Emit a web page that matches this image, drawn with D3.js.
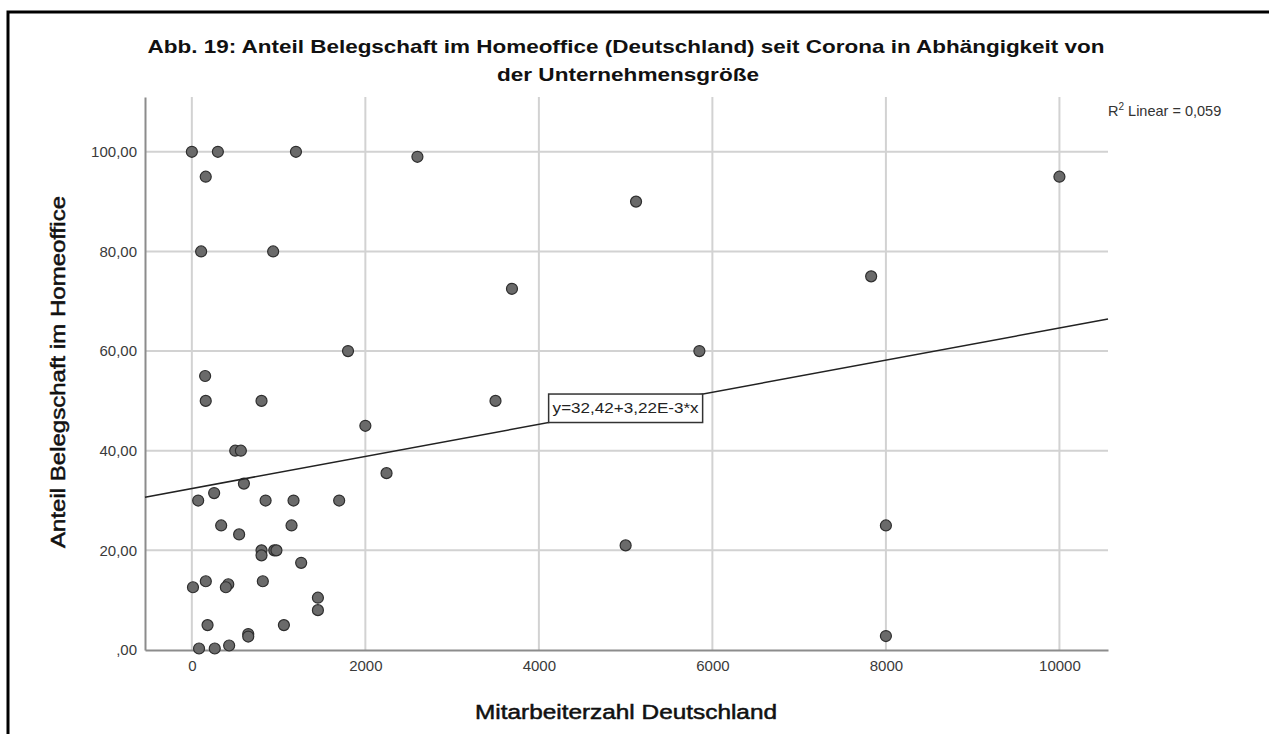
<!DOCTYPE html>
<html>
<head>
<meta charset="utf-8">
<script src="https://cdn.jsdelivr.net/npm/d3@7"></script>
<style>
  body { margin: 0; background: #fff; }
  text { font-family: Arial, "Liberation Sans", sans-serif; }
</style>
</head>
<body>
<div id="chart"></div>
<script>
// Mitarbeiterzahl Deutschland (x) / Anteil Belegschaft im Homeoffice (y)
const mitarbeiter = [
    0, 300, 1200, 160, 2600, 107, 937, 1800, 153, 160, 803,
    2000, 500, 565, 2244, 600, 257, 73, 850, 1172, 1698,
    338, 1149, 545, 803, 803, 950, 975, 1260,
    161, 13, 420, 392, 818, 1453, 1453, 181, 1061, 650, 650,
    83, 264, 430,
    3500, 5000, 5850, 3690, 5120, 7830, 8000, 8000, 10000
];
const homeoffice = [
    100, 100, 100, 95, 99, 80, 80, 60, 55, 50, 50,
    45, 40, 40, 35.5, 33.4, 31.5, 30, 30, 30, 30,
    25, 25, 23.2, 20, 19, 20, 20, 17.5,
    13.8, 12.6, 13.2, 12.6, 13.8, 10.5, 8, 5, 5, 3.2, 2.7,
    0.3, 0.3, 0.9,
    50, 21, 60, 72.5, 90, 75, 25, 2.8, 95
];
const xTicks = [0, 2000, 4000, 6000, 8000, 10000];
const yTicks = [0, 20, 40, 60, 80, 100];
const xExtent = [-540, 10560];
const yExtent = [0, 111];
const fitIntercept = 32.42;
const fitSlope = 3.22e-3;
const fitLabel = "y=32,42+3,22E-3*x";
const fitLabelAt = 5000;
const rSquared = "0,059";

(function () {
    const width = 1269, height = 734;
    const m = { left: 145, right: 1108, top: 97, bottom: 650 };

    const svg = d3.select("#chart").append("svg")
        .attr("width", width)
        .attr("height", height);

    // outer frame (left + top only visible)
    svg.append("path")
        .attr("d", `M8,${height} L8,12 L${width},12`)
        .attr("fill", "none")
        .attr("stroke", "#000")
        .attr("stroke-width", 3);

    const x = d3.scaleLinear().domain(xExtent).range([m.left, m.right]);
    const y = d3.scaleLinear().domain(yExtent).range([m.bottom, m.top]);

    const de = d3.formatLocale({ decimal: ",", thousands: ".", grouping: [3], currency: ["", "€"] });
    const fmtY = v => de.format(".2f")(v).replace(/^0,/, ",");

    // grid
    svg.append("g").selectAll("line")
        .data(xTicks)
        .join("line")
        .attr("x1", d => x(d)).attr("x2", d => x(d))
        .attr("y1", m.top).attr("y2", m.bottom)
        .attr("stroke", "#d2d2d2")
        .attr("stroke-width", 2);
    svg.append("g").selectAll("line")
        .data(yTicks.filter(d => d > 0))
        .join("line")
        .attr("x1", m.left).attr("x2", m.right)
        .attr("y1", d => y(d)).attr("y2", d => y(d))
        .attr("stroke", "#d2d2d2")
        .attr("stroke-width", 2);

    // axes
    const yAxis = svg.append("g")
        .attr("transform", `translate(${m.left},0)`)
        .call(d3.axisLeft(y).tickValues(yTicks).tickFormat(fmtY).tickSize(0).tickPadding(8));
    const xAxis = svg.append("g")
        .attr("transform", `translate(0,${m.bottom})`)
        .call(d3.axisBottom(x).tickValues(xTicks).tickFormat(d3.format("d")).tickSize(0).tickPadding(10));
    [yAxis, xAxis].forEach(g => {
        g.select(".domain").attr("stroke", "#8c8c8c").attr("stroke-width", 2);
        g.selectAll("text")
            .attr("font-size", 15)
            .attr("fill", "#3a3a3a")
            .style("font-family", "Arial, 'Liberation Sans', sans-serif");
    });

    // points
    svg.append("g").selectAll("circle")
        .data(mitarbeiter.map((v, i) => [v, homeoffice[i]]))
        .join("circle")
        .attr("cx", d => x(d[0]))
        .attr("cy", d => y(d[1]))
        .attr("r", 5.5)
        .attr("fill", "#6a6a6a")
        .attr("stroke", "#2e2e2e")
        .attr("stroke-width", 1.2);

    // regression line
    const fit = v => fitIntercept + fitSlope * v;
    svg.append("line")
        .attr("x1", x(xExtent[0])).attr("y1", y(fit(xExtent[0])))
        .attr("x2", x(xExtent[1])).attr("y2", y(fit(xExtent[1])))
        .attr("stroke", "#222")
        .attr("stroke-width", 1.5);

    // equation label box, corners sitting on the line
    const lg = svg.append("g");
    const lt = lg.append("text")
        .attr("font-size", 15)
        .attr("fill", "#222")
        .attr("textLength", 146).attr("lengthAdjust", "spacingAndGlyphs")
        .text(fitLabel);
    const tw = 146;
    const bx0 = x(fitLabelAt) - tw / 2 - 4, bx1 = x(fitLabelAt) + tw / 2 + 4;
    const by0 = y(fit(x.invert(bx1))), by1 = y(fit(x.invert(bx0)));
    lg.insert("rect", "text")
        .attr("x", bx0).attr("y", by0)
        .attr("width", bx1 - bx0).attr("height", by1 - by0)
        .attr("fill", "#fff")
        .attr("stroke", "#333")
        .attr("stroke-width", 1.5);
    lt.attr("x", bx0 + 4).attr("y", (by0 + by1) / 2 + 5);

    // R² note
    const rt = svg.append("text")
        .attr("x", m.right)
        .attr("y", 116)
        .attr("font-size", 14.5)
        .attr("fill", "#333");
    rt.append("tspan").text("R");
    rt.append("tspan").attr("font-size", 10).attr("dy", -6).text("2");
    rt.append("tspan").attr("dy", 6).text(" Linear = " + rSquared);

    // titles
    const title = svg.append("g")
        .attr("font-weight", "bold")
        .attr("font-size", 19)
        .attr("fill", "#111")
        .attr("text-anchor", "middle");
    title.append("text")
        .attr("x", 626).attr("y", 53)
        .attr("textLength", 957).attr("lengthAdjust", "spacingAndGlyphs")
        .text("Abb. 19: Anteil Belegschaft im Homeoffice (Deutschland) seit Corona in Abhängigkeit von");
    title.append("text")
        .attr("x", 628).attr("y", 81)
        .attr("textLength", 262).attr("lengthAdjust", "spacingAndGlyphs")
        .text("der Unternehmensgröße");

    svg.append("text")
        .attr("transform", "translate(65,372) rotate(-90)")
        .attr("text-anchor", "middle")
        .attr("font-size", 20)
        .attr("fill", "#111")
        .attr("stroke", "#111")
        .attr("stroke-width", 0.5)
        .attr("textLength", 352).attr("lengthAdjust", "spacingAndGlyphs")
        .text("Anteil Belegschaft im Homeoffice");

    svg.append("text")
        .attr("x", 626).attr("y", 719)
        .attr("text-anchor", "middle")
        .attr("font-size", 20)
        .attr("fill", "#111")
        .attr("stroke", "#111")
        .attr("stroke-width", 0.5)
        .attr("textLength", 302).attr("lengthAdjust", "spacingAndGlyphs")
        .text("Mitarbeiterzahl Deutschland");
}());
</script>
</body>
</html>
